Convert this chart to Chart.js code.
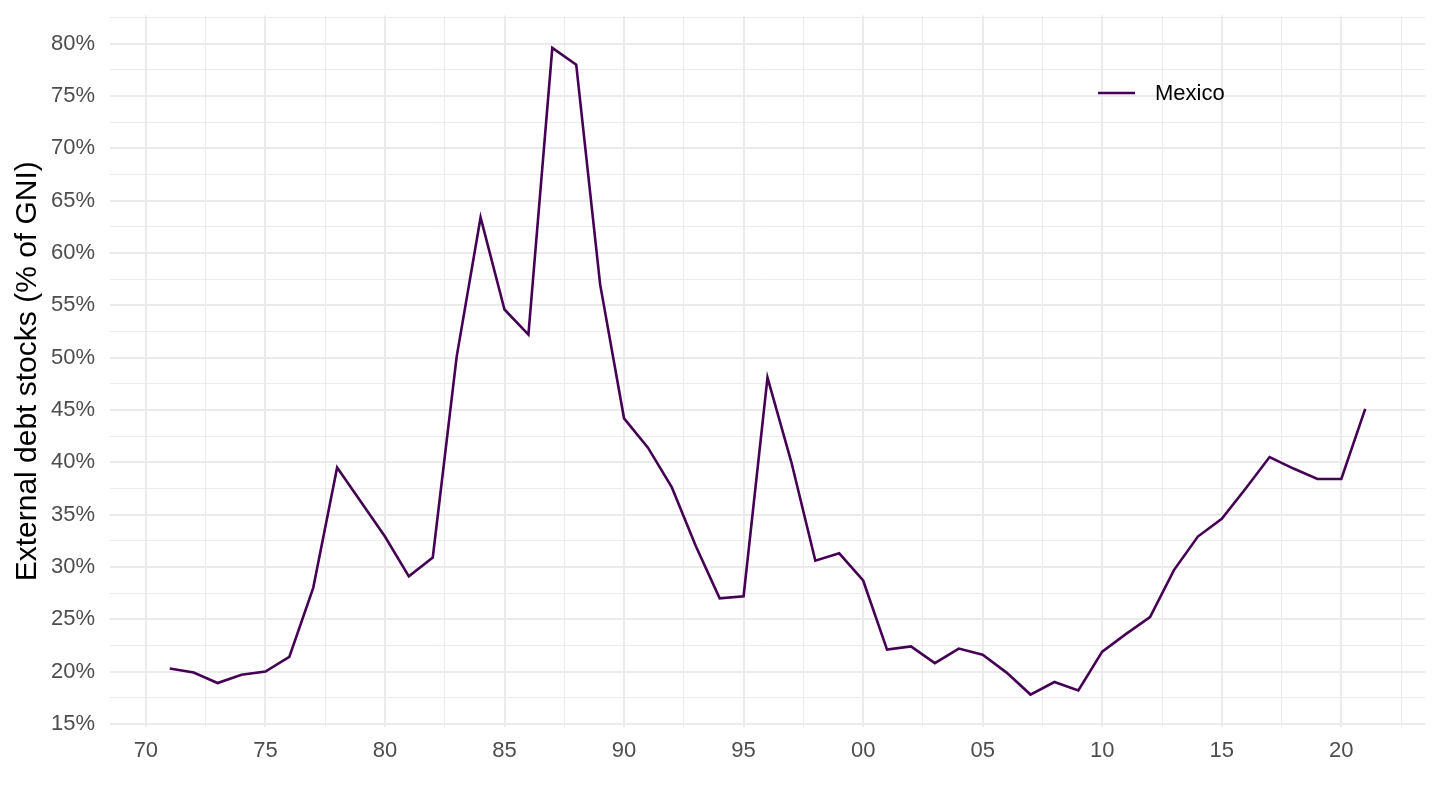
<!DOCTYPE html>
<html>
<head>
<meta charset="utf-8">
<script src="https://cdn.jsdelivr.net/npm/chart.js@4.4.1/dist/chart.umd.min.js"></script>
<style>
    html, body { margin: 0; padding: 0; background: #ffffff; }
    #wrap { width: 1440px; height: 810px; position: relative; }
</style>
</head>
<body>
<div id="wrap"><canvas id="debtChart"></canvas></div>
<script>
// External debt stocks, Mexico, % of GNI
const years = [
    1971, 1972, 1973, 1974, 1975, 1976, 1977, 1978, 1979, 1980,
    1981, 1982, 1983, 1984, 1985, 1986, 1987, 1988, 1989, 1990,
    1991, 1992, 1993, 1994, 1995, 1996, 1997, 1998, 1999, 2000,
    2001, 2002, 2003, 2004, 2005, 2006, 2007, 2008, 2009, 2010,
    2011, 2012, 2013, 2014, 2015, 2016, 2017, 2018, 2019, 2020,
    2021
];
const mexico = [
    20.3, 19.9, 18.9, 19.7, 20.0, 21.4, 28.0, 39.5, 36.2, 32.9,
    29.1, 30.9, 50.1, 63.4, 54.6, 52.2, 79.6, 78.0, 57.0, 44.2,
    41.4, 37.6, 32.0, 27.0, 27.2, 48.1, 40.0, 30.6, 31.3, 28.7,
    22.1, 22.4, 20.8, 22.2, 21.6, 19.9, 17.8, 19.0, 18.2, 21.9,
    23.6, 25.2, 29.7, 32.9, 34.6, 37.5, 40.5, 39.4, 38.4, 38.4,
    45.1
];
const seriesName = 'Mexico';
const yTitle = 'External debt stocks (% of GNI)';

// major ticks every 5, minor gridlines halfway between
const xTicks = [1970, 1972.5, 1975, 1977.5, 1980, 1982.5, 1985, 1987.5, 1990, 1992.5,
    1995, 1997.5, 2000, 2002.5, 2005, 2007.5, 2010, 2012.5, 2015, 2017.5, 2020, 2022.5];
const yTicks = [15, 17.5, 20, 22.5, 25, 27.5, 30, 32.5, 35, 37.5, 40, 42.5,
    45, 47.5, 50, 52.5, 55, 57.5, 60, 62.5, 65, 67.5, 70, 72.5, 75, 77.5, 80, 82.5];

const lineColor = '#440154';
const gridColor = '#ebebeb';
const fontFamily = '"Liberation Sans", Arial, sans-serif';

const isMajor = v => Math.abs(v % 5) < 1e-6;

const legendPlugin = {
    id: 'insideLegend',
    afterDraw(chart) {
        const c = chart.ctx;
        const x = 1098, y = 93;
        c.save();
        c.strokeStyle = lineColor;
        c.lineWidth = 2.6;
        c.beginPath();
        c.moveTo(x, y);
        c.lineTo(x + 37, y);
        c.stroke();
        c.fillStyle = '#000000';
        c.font = '22px ' + fontFamily;
        c.textBaseline = 'middle';
        c.fillText(seriesName, x + 57, y + 1);
        c.restore();
    }
};

const ctx = document.getElementById('debtChart').getContext('2d');
new Chart(ctx, {
    type: 'line',
    data: {
        datasets: [{
            label: seriesName,
            data: years.map((yr, i) => ({ x: yr, y: mexico[i] })),
            borderColor: lineColor,
            borderWidth: 2.6,
            pointRadius: 0,
            tension: 0,
            fill: false
        }]
    },
    options: {
        responsive: true,
        maintainAspectRatio: false,
        animation: false,
        layout: { padding: { top: 15.5, right: 15, left: 0, bottom: 0 } },
        plugins: {
            legend: { display: false },
            tooltip: { enabled: false }
        },
        scales: {
            x: {
                type: 'linear',
                min: 1968.5,
                max: 2023.5,
                afterBuildTicks: scale => { scale.ticks = xTicks.map(v => ({ value: v })); },
                afterFit: scale => {
                    scale.height = 83;
                    scale.paddingLeft = 0;
                    scale.paddingRight = 0;
                },
                border: { display: false },
                grid: {
                    drawTicks: false,
                    color: gridColor,
                    lineWidth: c => (c.tick && isMajor(c.tick.value)) ? 2 : 1
                },
                ticks: {
                    autoSkip: false,
                    maxRotation: 0,
                    padding: 11,
                    color: '#4d4d4d',
                    font: { family: fontFamily, size: 22 },
                    callback: v => isMajor(v) ? String(v % 100).padStart(2, '0') : ''
                }
            },
            y: {
                type: 'linear',
                min: 14.7,
                max: 82.7,
                afterBuildTicks: scale => { scale.ticks = yTicks.map(v => ({ value: v })); },
                afterFit: scale => {
                    scale.width = 110;
                    scale.paddingTop = 0;
                    scale.paddingBottom = 0;
                },
                border: { display: false },
                grid: {
                    drawTicks: false,
                    color: gridColor,
                    lineWidth: c => (c.tick && isMajor(c.tick.value)) ? 2 : 1
                },
                title: {
                    display: true,
                    text: yTitle,
                    color: '#000000',
                    padding: { top: 10, bottom: 0 },
                    font: { family: fontFamily, size: 30 }
                },
                ticks: {
                    autoSkip: false,
                    padding: 15,
                    color: '#4d4d4d',
                    font: { family: fontFamily, size: 22 },
                    callback: v => isMajor(v) ? v + '%' : ''
                }
            }
        }
    },
    plugins: [legendPlugin]
});
</script>
</body>
</html>
